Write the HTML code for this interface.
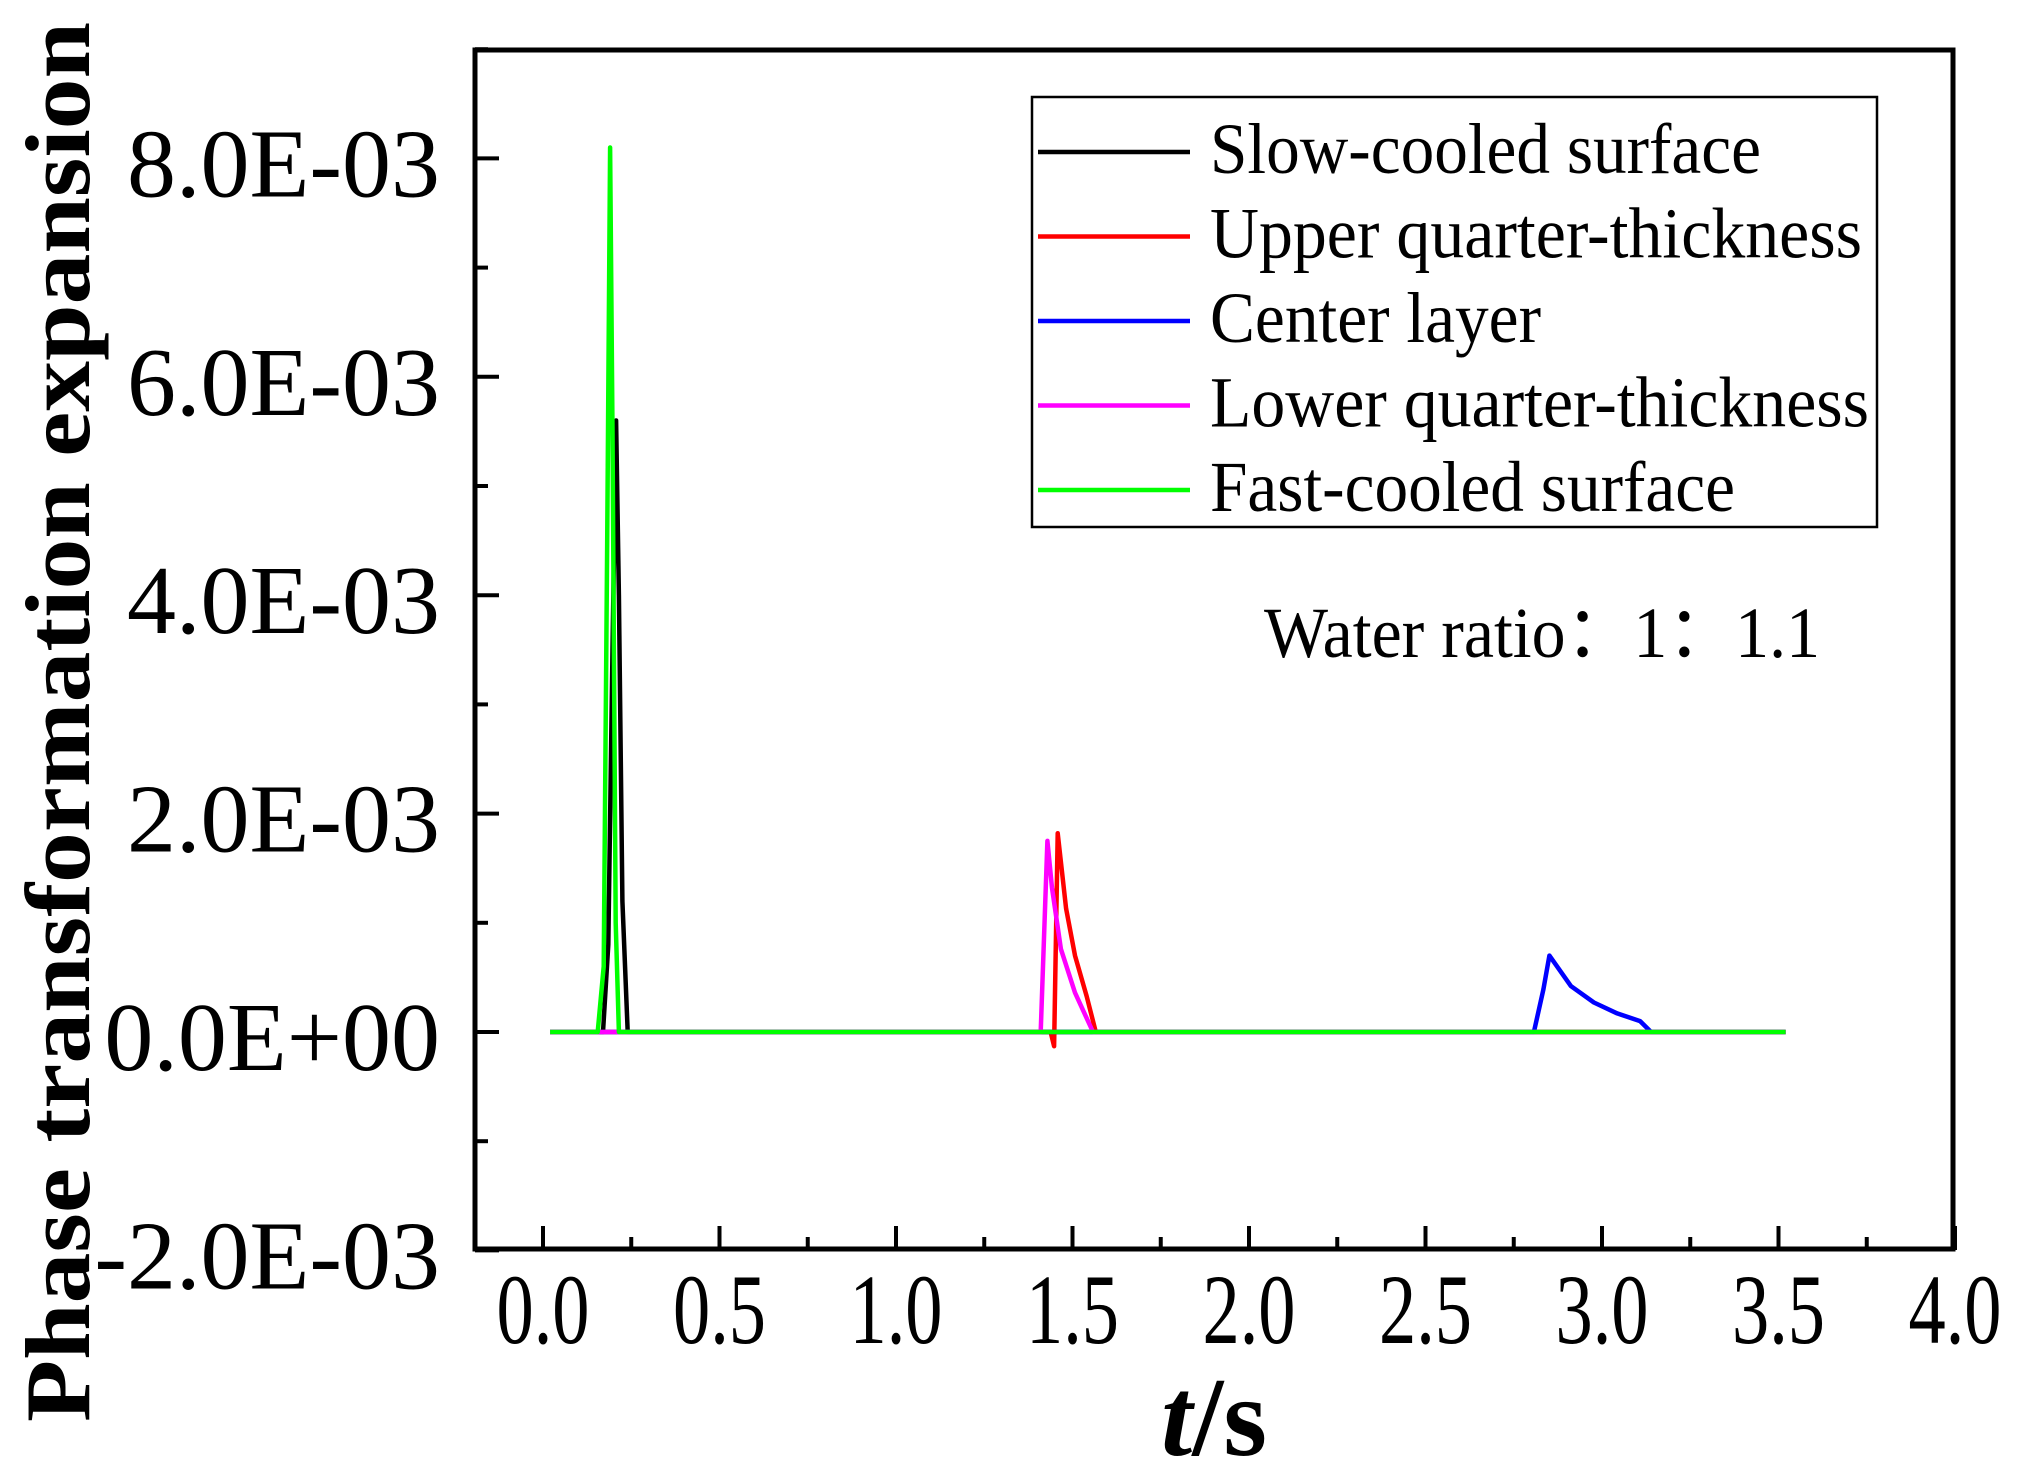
<!DOCTYPE html>
<html><head><meta charset="utf-8"><style>
html,body{margin:0;padding:0;background:#fff;}
svg{display:block;font-family:"Liberation Serif",serif;}
</style></head><body>
<svg id="chart" width="2027" height="1479" viewBox="0 0 2027 1479" xmlns="http://www.w3.org/2000/svg">
<rect x="0" y="0" width="2027" height="1479" fill="#fff"/>
<g id="ticks"></g>
<g id="series"></g>
<rect x="475" y="50" width="1478" height="1199" fill="none" stroke="#000" stroke-width="5"/>
<text transform="translate(89,722) rotate(-90)" text-anchor="middle" font-weight="bold" font-size="92" textLength="1400" lengthAdjust="spacingAndGlyphs">Phase transformation expansion</text>
<text x="1214" y="1455" text-anchor="middle" font-weight="bold" font-size="112"><tspan font-style="italic">t</tspan>/s</text>
<g>
<rect x="1032" y="97" width="845" height="430" fill="#fff" stroke="#000" stroke-width="2.5"/>
<g id="legend-entries"></g>
</g>
<text x="1264" y="657" font-size="72" textLength="556" lengthAdjust="spacingAndGlyphs">Water ratio：1：1.1</text>
</svg>
<script>
const xTicks=[0,0.5,1.0,1.5,2.0,2.5,3.0,3.5,4.0];
const xTickLabels=["0.0","0.5","1.0","1.5","2.0","2.5","3.0","3.5","4.0"];
const yTicks=[-0.002,0,0.002,0.004,0.006,0.008];
const yTickLabels=["-2.0E-03","0.0E+00","2.0E-03","4.0E-03","6.0E-03","8.0E-03"];
const seriesNames=["Slow-cooled surface","Upper quarter-thickness","Center layer","Lower quarter-thickness","Fast-cooled surface"];
const seriesColors=["#000000","#ff0000","#0000ff","#ff00ff","#00ff00"];
const legendWidths=[551,652,331,659,525];
const slowX=[0.02,0.17,0.185,0.197,0.207,0.215,0.225,0.24,3.52];
const slowY=[0,0,0.0008,0.0035,0.0056,0.0040,0.0012,0,0];
const upperX=[0.02,1.438,1.448,1.458,1.482,1.507,1.540,1.566,3.52];
const upperY=[0,0,-0.00013,0.00182,0.00113,0.00070,0.00033,0,0];
const centerX=[0.02,2.807,2.834,2.851,2.912,2.977,3.043,3.108,3.139,3.52];
const centerY=[0,0,0.00039,0.00070,0.00042,0.00027,0.00017,0.00010,0,0];
const lowerX=[0.02,1.410,1.429,1.442,1.467,1.507,1.558,3.52];
const lowerY=[0,0,0.00175,0.00132,0.00076,0.00036,0,0];
const fastX=[0.02,0.155,0.172,0.182,0.19,0.197,0.206,0.215,3.52];
const fastY=[0,0,0.0006,0.0045,0.0081,0.0055,0.0010,0,0];
const allX=[slowX,upperX,centerX,lowerX,fastX];
const allY=[slowY,upperY,centerY,lowerY,fastY];
const NS="http://www.w3.org/2000/svg";
const X0=543, XPU=353, Y0=1032, YPU=218.4/0.002;
function sx(v){return X0+v*XPU;}
function sy(v){return Y0-v*YPU;}
function mk(tag,attrs,parent){const e=document.createElementNS(NS,tag);for(const k in attrs)e.setAttribute(k,attrs[k]);parent.appendChild(e);return e;}
const tg=document.getElementById('ticks');
for(let i=0;i<xTicks.length;i++){
  const x=sx(xTicks[i]);
  const t=mk('line',{x1:x,x2:x,y1:1250,y2:1226,stroke:'#000','stroke-width':4},tg);
  
  
  if(i<xTicks.length-1){const xm=sx(xTicks[i]+0.25);
    const m=mk('line',{x1:xm,x2:xm,y1:1250,y2:1237,stroke:'#000','stroke-width':4},tg);
    
    }
  const l=mk('text',{x:x,y:1343,'text-anchor':'middle','font-size':100,textLength:93,lengthAdjust:'spacingAndGlyphs'},tg);
  
  
  l.textContent=xTickLabels[i];
}
for(let i=0;i<yTicks.length;i++){
  const y=sy(yTicks[i]);
  const t=mk('line',{x1:475,x2:499,y1:y,y2:y,stroke:'#000','stroke-width':4},tg);
  
  
  const ym=sy(yTicks[i]+0.001);
  const m=mk('line',{x1:475,x2:488,y1:ym,y2:ym,stroke:'#000','stroke-width':4},tg);
  
  
  const l=mk('text',{x:440,y:y+38,'text-anchor':'end','font-size':98},tg);
  
  
  l.textContent=yTickLabels[i];
}
const sg=document.getElementById('series');
for(let s=0;s<allX.length;s++){
  const pts=allX[s].map((v,i)=>sx(v).toFixed(1)+','+sy(allY[s][i]).toFixed(1)).join(' ');
  const p=mk('polyline',{points:pts,fill:'none',stroke:seriesColors[s],'stroke-width':4.5,'stroke-linejoin':'round'},sg);
  
  
}
const lg=document.getElementById('legend-entries');
for(let s=0;s<seriesNames.length;s++){
  const y=152+s*84.5;
  const l=mk('line',{x1:1038,x2:1190,y1:y,y2:y,stroke:seriesColors[s],'stroke-width':4.5},lg);
  
  
  const t=mk('text',{x:1210,y:y+21,'font-size':72,textLength:legendWidths[s],lengthAdjust:'spacingAndGlyphs'},lg);
  
  
  t.textContent=seriesNames[s];
}
</script>
</body></html>
